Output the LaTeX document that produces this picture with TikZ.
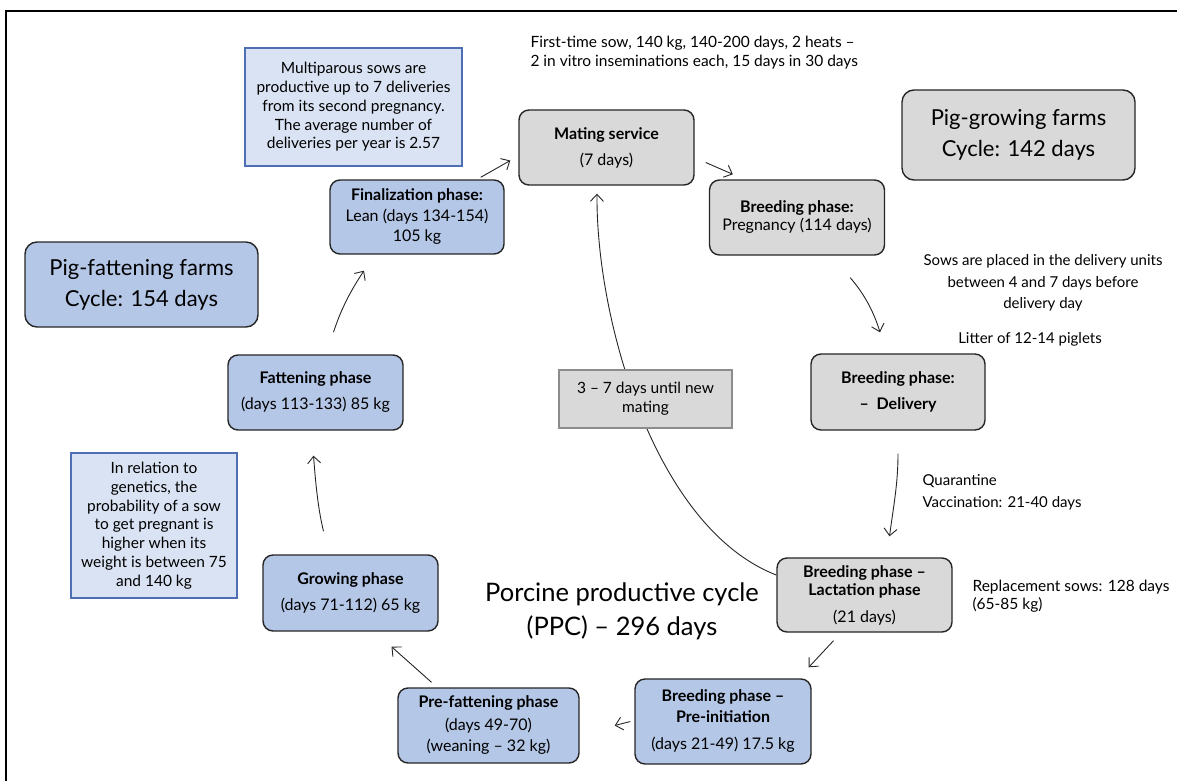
\documentclass[tikz,border=0pt]{standalone}
\usepackage{fontspec}
\setmainfont{Lato}
\usetikzlibrary{arrows.meta}
\definecolor{fatblue}{HTML}{B4C7E7}
\definecolor{growgray}{HTML}{D9D9D9}
\definecolor{noteblue}{HTML}{DAE3F3}
\definecolor{noteedge}{HTML}{4F6FB4}
\definecolor{waitedge}{HTML}{8C8C8C}
\definecolor{edge}{HTML}{262626}
\begin{document}
\begin{tikzpicture}[x=1pt,y=-1pt,
  phase/.style={draw=edge, line width=1.4pt, rounded corners=10pt, align=center,
    minimum width=175pt, minimum height=75pt, inner sep=2pt,
    font=\fontsize{16}{19}\selectfont},
  sowphase/.style={phase, fill=growgray},
  pigphase/.style={phase, fill=fatblue},
  farm/.style={draw=edge, line width=1.4pt, rounded corners=12pt, align=center,
    minimum width=233pt, font=\fontsize{22}{31}\selectfont},
  note/.style={draw=noteedge, line width=1.2pt, fill=noteblue, align=center,
    font=\fontsize{15.5}{18.8}\selectfont},
  remark/.style={align=center, font=\fontsize{15}{21.5}\selectfont},
  cyc/.style={draw=edge, line width=0.9pt, -{Straight Barb[length=7pt,width=13pt]}}]
\useasboundingbox (0,0) rectangle (1177,781);
\draw[line width=1.2pt] (1177,11) -- (6,11) -- (6,781); % frame

% sow side (grey)
\node[sowphase] (mat) at (606.5,147.5) {\textbf{Mating service}\\[7pt](7 days)};
\node[sowphase, font=\fontsize{16}{18}\selectfont] (preg) at (797,217.5) {\textbf{Breeding phase:}\\Pregnancy (114 days)};
\node[sowphase, minimum width=174pt, minimum height=76pt] (deliv) at (898,392)
  {\textbf{Breeding phase:}\\[7pt]\textbf{–\ \ Delivery}};
\node[sowphase, minimum height=74pt, font=\fontsize{16}{18}\selectfont] (lact) at (864.5,595)
  {\textbf{Breeding phase –}\\\textbf{Lactation phase}\\[9pt](21 days)};

% pig side (blue)
\node[pigphase, minimum width=176pt, minimum height=85pt, font=\fontsize{16}{21}\selectfont] (preinit) at (723,721.5)
  {\textbf{Breeding phase –}\\\textbf{Pre-initiation}\\[6pt](days 21-49) 17.5 kg};
\node[pigphase, minimum width=181pt, font=\fontsize{16}{21}\selectfont] (prefat) at (488.5,725.5)
  {\textbf{Pre-fattening phase}\\[2pt](days 49-70)\\(weaning – 32 kg)};
\node[pigphase, minimum height=76pt] (grow) at (350.5,593) {\textbf{Growing phase}\\[7pt](days 71-112) 65 kg};
\node[pigphase] (fatt) at (315.5,392.5) {\textbf{Fattening phase}\\[7pt](days 113-133) 85 kg};
\node[pigphase, minimum width=174pt, minimum height=74pt, font=\fontsize{16}{20.5}\selectfont] (fin) at (417,217)
  {\textbf{Finalization phase:}\\Lean (days 134-154)\\105 kg};

% farms
\node[farm, fill=growgray, minimum height=90pt] (growfarm) at (1018.5,135) {Pig-growing farms\\Cycle: 142 days};
\node[farm, fill=fatblue, minimum height=85pt] (fatfarm) at (141.5,284.5) {Pig-fattening farms\\Cycle: 154 days};

% notes
\node[note, minimum width=217pt, minimum height=118pt] (multi) at (353.5,107)
  {Multiparous sows are\\productive up to 7 deliveries\\from its second pregnancy.\\The average number of\\deliveries per year is 2.57};
\node[note, minimum width=166pt, minimum height=145pt] (genet) at (154,525.5)
  {In relation to\\genetics, the\\probability of a sow\\to get pregnant is\\higher when its\\weight is between 75\\and 140 kg};
\node[remark, anchor=west, align=left, font=\fontsize{15.5}{19}\selectfont] (first) at (527,52.5)
  {First-time sow, 140 kg, 140-200 days, 2 heats –\\2 in vitro inseminations each, 15 days in 30 days};
\node[remark] (sows) at (1043,283) {Sows are placed in the delivery units\\between 4 and 7 days before\\delivery day};
\node[remark] (litter) at (1030,339) {Litter of 12-14 piglets};
\node[remark, anchor=west, align=left, font=\fontsize{15}{22}\selectfont] (quar) at (919,492)
  {Quarantine\\Vaccination: 21-40 days};
\node[remark, anchor=west, align=left, font=\fontsize{15.5}{18}\selectfont] (repl) at (969,596)
  {Replacement sows: 128 days\\(65-85 kg)};
\node[align=center, font=\fontsize{25.5}{34}\selectfont] (ppc) at (622,611)
  {Porcine productive cycle\\(PPC) – 296 days};

% cycle arrows
\draw[cyc] ([shift={(-24,-2)}]fin.north east) -- ([shift={(-8,13)}]mat.west);
\draw[cyc] ([shift={(11,15)}]mat.east) -- ([shift={(24,-5)}]preg.north west);
\draw[cyc] ([shift={(-35,22)}]preg.south east) .. controls +(14,16) and +(-6,-20) .. ([shift={(-18,-21)}]deliv.north);
\draw[cyc] ([shift={(0,23)}]deliv.south) .. controls +(0,30) and +(4,-30) .. ([shift={(25,-21)}]lact.north);
\draw[cyc] ([shift={(-31,8)}]lact.south) -- ([shift={(-3,-11)}]preinit.north east);
\draw[cyc] ([shift={(-4,0)}]preinit.west) -- ([shift={(35,0)}]prefat.east);
\draw[cyc] ([shift={(-57,-5)}]prefat.north) -- ([shift={(41,15)}]grow.south);
\draw[cyc] ([shift={(-27,-23)}]grow.north) .. controls +(-6,-25) and +(2,25) .. ([shift={(-2,25)}]fatt.south);
\draw[cyc] ([shift={(18,-22)}]fatt.north) .. controls +(8,-25) and +(-12,18) .. ([shift={(-53,16)}]fin.south);
\draw[cyc] ([shift={(0,-20)}]lact.west) .. controls (655,528) and (596,320) .. ([shift={(-9.5,8)}]mat.south);

% box over the return arc
\node[draw=waitedge, line width=1.2pt, fill=growgray, align=center, minimum width=173pt,
  minimum height=58pt, font=\fontsize{15.5}{19}\selectfont] (wait) at (645.5,399)
  {3 – 7 days until new\\mating};
\end{tikzpicture}
\end{document}
